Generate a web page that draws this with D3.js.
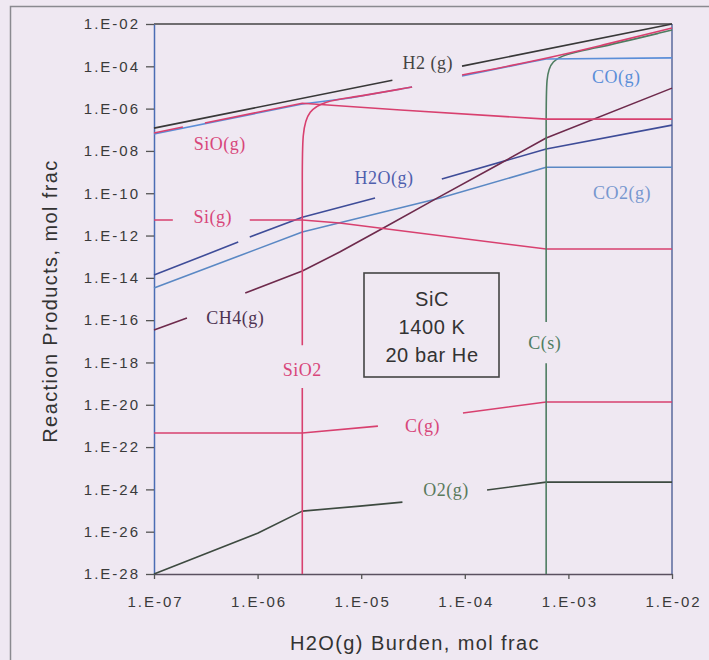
<!DOCTYPE html>
<html>
<head>
<meta charset="utf-8">
<script src="https://cdn.jsdelivr.net/npm/d3@7"></script>
<style>
  body { margin: 0; background: #efe8f2; }
  svg { display: block; }
</style>
</head>
<body>
<div id="chart"></div>
<script>
//dimensions
const WIDTH = 709;
const HEIGHT = 660;
const MARGIN = { top: 24, right: 37, bottom: 86, left: 154 };

// axis ticks
const X_TICKS = [1e-7, 1e-6, 1e-5, 1e-4, 1e-3, 1e-2];
const X_TICK_LABELS = ["1.E-07", "1.E-06", "1.E-05", "1.E-04", "1.E-03", "1.E-02"];
const Y_TICKS = [1e-2, 1e-4, 1e-6, 1e-8, 1e-10, 1e-12, 1e-14, 1e-16, 1e-18, 1e-20, 1e-22, 1e-24, 1e-26, 1e-28];
const Y_TICK_LABELS = ["1.E-02", "1.E-04", "1.E-06", "1.E-08", "1.E-10", "1.E-12", "1.E-14",
    "1.E-16", "1.E-18", "1.E-20", "1.E-22", "1.E-24", "1.E-26", "1.E-28"];

// series: [H2O burden, mol frac], null = break in the line
const H2 = [[1e-7, 1.2e-7], [2.0e-5, 2.2e-5], null, [9.4e-5, 1.02e-4], [1e-2, 1e-2]];
const SIO = [[1e-7, 7.1e-8], [1.9e-7, 1.35e-7], null, [3.1e-7, 2.1e-7], [2.7e-6, 1.8e-6],
    [2.4e-5, 8.6e-7], [6.1e-4, 3.2e-7], [1e-2, 3.2e-7]];
const CO = [[1e-7, 6.3e-8], [2.7e-6, 1.65e-6], [7.8e-6, 3.2e-6], [3.1e-5, 1.05e-5], null,
    [9.4e-5, 3.5e-5], [4.3e-4, 1.6e-4], [6.1e-4, 2.2e-4], [1e-2, 2.5e-4]];
// SiO2 and C(s) points are spline control points (rounded onset)
const SIO2 = [[2.7e-6, 1e-28], [2.7e-6, 6.2e-20], null, [2.7e-6, 6.6e-18], [2.7e-6, 3.7e-9],
    [2.7e-6, 1.65e-6], [7.8e-6, 3.2e-6], [3.1e-5, 1.05e-5], null,
    [9.4e-5, 3.9e-5], [4.3e-4, 1.6e-4], [2.0e-3, 9.1e-4], [1e-2, 6.5e-3]];
const SI = [[1e-7, 5.4e-12], [1.52e-7, 5.4e-12], null, [8.4e-7, 5.4e-12], [2.7e-6, 5.4e-12],
    [6.2e-6, 3.9e-12], [6.1e-4, 2.3e-13], [1e-2, 2.3e-13]];
const H2O = [[1e-7, 1.35e-14], [6.5e-7, 4.9e-13], null, [8.4e-7, 8.5e-13], [2.7e-6, 7.4e-12],
    [1.36e-5, 5.9e-11], null, [6.0e-5, 4.7e-10], [6.1e-4, 1.23e-8], [1e-2, 1.66e-7]];
const CO2 = [[1e-7, 3.3e-15], [2.7e-6, 1.47e-12], [5.8e-5, 5.9e-11], [6.1e-4, 1.7e-9], [1e-2, 1.7e-9]];
const CH4 = [[1e-7, 3.4e-17], [2.08e-7, 1.26e-16], null, [7.6e-7, 1.9e-15], [2.7e-6, 2.1e-14],
    [6.2e-6, 1.66e-13], [1.62e-5, 2.2e-12], [5.4e-5, 5.9e-11], [2.05e-4, 2.1e-9],
    [6.1e-4, 4.1e-8], [1e-2, 9.3e-6]];
const CS = [[6.1e-4, 1e-28], [6.1e-4, 9.3e-19], null, [6.1e-4, 8.1e-17], [6.1e-4, 4.4e-6],
    [6.1e-4, 2.8e-4], [1.6e-3, 5.9e-4], [1e-2, 5.2e-3]];
const CG = [[1e-7, 4.6e-22], [2.7e-6, 4.6e-22], [1.45e-5, 9.8e-22], null, [9.6e-5, 4.1e-21],
    [6.1e-4, 1.35e-20], [1e-2, 1.35e-20]];
const O2 = [[1e-7, 1e-28], [1e-6, 8.5e-27], [2.7e-6, 9.4e-26], [9.7e-6, 1.62e-25], [2.5e-5, 2.5e-25],
    null, [1.64e-4, 9.3e-25], [6.1e-4, 2.2e-24], [1e-2, 2.2e-24]];

// curve labels: text, burden, mol frac
const LABELS = [
    ["H2 (g)", 4.4e-5, 1.45e-4],
    ["SiO(g)", 4.3e-7, 2.3e-8],
    ["Si(g)", 3.7e-7, 7.4e-12],
    ["CH4(g)", 6.1e-7, 1.26e-16],
    ["H2O(g)", 1.66e-5, 5.2e-10],
    ["CO(g)", 2.9e-3, 3.1e-5],
    ["CO2(g)", 3.3e-3, 1.02e-10],
    ["SiO2", 2.7e-6, 4.4e-19],
    ["C(s)", 5.9e-4, 8.3e-18],
    ["C(g)", 3.9e-5, 9.8e-22],
    ["O2(g)", 6.6e-5, 9.3e-25]
];

const BOX_TEXT = ["SiC", "1400 K", "20 bar He"];

const PINK = "#d8406f";
// drawing order, colour, smooth or not
const SERIES = [
    { data: O2, color: "#3d4a40" },
    { data: CG, color: PINK },
    { data: CO2, color: "#5a88c4" },
    { data: H2O, color: "#3e4c98" },
    { data: CH4, color: "#6e2a4c" },
    { data: SI, color: PINK },
    { data: CS, color: "#4f7d62", smooth: true },
    { data: CO, color: "#5b8ed8" },
    { data: SIO, color: PINK },
    { data: SIO2, color: PINK, smooth: true },
    { data: H2, color: "#383838" }
];

const LABEL_COLORS = {
    "H2 (g)": "#444", "SiO(g)": "#d8467a", "Si(g)": "#d8467a", "CH4(g)": "#4e3352",
    "H2O(g)": "#4f5fae", "CO(g)": "#5b8ed8", "CO2(g)": "#7797cf", "SiO2": "#d8467a",
    "C(s)": "#4f7d62", "C(g)": "#d8467a", "O2(g)": "#5a7a5c"
};

function renderChart() {
    const svg = d3.select("#chart")
        .append("svg")
        .attr("width", WIDTH)
        .attr("height", HEIGHT);

    // outer page frame
    svg.append("rect")
        .attr("x", 10.5).attr("y", 6.5)
        .attr("width", 740).attr("height", 720)
        .attr("fill", "none")
        .attr("stroke", "#8a8a90")
        .attr("stroke-width", 1.5);

    const x = d3.scaleLog()
        .domain([1e-7, 1e-2])
        .range([MARGIN.left, WIDTH - MARGIN.right]);

    const y = d3.scaleLog()
        .domain([1e-28, 1e-2])
        .range([HEIGHT - MARGIN.bottom, MARGIN.top]);

    const x0 = x.range()[0], x1 = x.range()[1];
    const y0 = y.range()[0], y1 = y.range()[1];

    // top and right frame of the plot
    svg.append("line").attr("x1", x0).attr("x2", x1).attr("y1", y1).attr("y2", y1)
        .attr("stroke", "#444").attr("stroke-width", 1.5);
    svg.append("line").attr("x1", x1).attr("x2", x1).attr("y1", y1).attr("y2", y0)
        .attr("stroke", "#5a6a9c").attr("stroke-width", 1.5);

    // X axis
    const xAxis = svg.append("g")
        .attr("transform", `translate(0,${y0})`)
        .call(d3.axisBottom(x)
            .tickValues(X_TICKS)
            .tickFormat((d, i) => X_TICK_LABELS[i])
            .tickSize(5)
            .tickSizeOuter(0)
            .tickPadding(17));

    // Y axis
    const yAxis = svg.append("g")
        .attr("transform", `translate(${x0},0)`)
        .call(d3.axisLeft(y)
            .tickValues(Y_TICKS)
            .tickFormat((d, i) => Y_TICK_LABELS[i])
            .tickSize(8)
            .tickSizeOuter(0)
            .tickPadding(6));

    xAxis.select(".domain").attr("stroke", "#5a5060").attr("stroke-width", 1.5);
    yAxis.select(".domain").attr("stroke", "#4a6cb4").attr("stroke-width", 1.5);
    svg.selectAll(".tick line").attr("stroke", "#555").attr("stroke-width", 1.3);
    svg.selectAll(".tick text")
        .attr("fill", "#3a3a3a")
        .attr("font-family", "'Liberation Sans', Arial, sans-serif")
        .attr("font-size", 15)
        .attr("letter-spacing", 2);
    xAxis.selectAll(".tick text").attr("dx", 1);

    // axis titles
    svg.append("text")
        .attr("x", 415).attr("y", 650)
        .attr("text-anchor", "middle")
        .attr("font-family", "'Liberation Sans', Arial, sans-serif")
        .attr("font-size", 20)
        .attr("letter-spacing", 1.4)
        .attr("fill", "#333")
        .text("H2O(g) Burden, mol frac");

    svg.append("text")
        .attr("transform", "translate(57,301) rotate(-90)")
        .attr("text-anchor", "middle")
        .attr("font-family", "'Liberation Sans', Arial, sans-serif")
        .attr("font-size", 20)
        .attr("letter-spacing", 1.4)
        .attr("fill", "#333")
        .text("Reaction Products, mol frac");

    // curves
    SERIES.forEach(s => {
        const line = d3.line()
            .defined(d => d !== null)
            .x(d => x(d[0]))
            .y(d => y(d[1]))
            .curve(s.smooth ? d3.curveBasis : d3.curveLinear);

        svg.append("path")
            .datum(s.data)
            .attr("fill", "none")
            .attr("stroke", s.color)
            .attr("stroke-width", 1.6)
            .attr("stroke-linejoin", "round")
            .attr("d", line);
    });

    // curve labels
    svg.selectAll(".curve-label")
        .data(LABELS)
        .enter()
        .append("text")
        .attr("class", "curve-label")
        .attr("x", d => x(d[1]))
        .attr("y", d => y(d[2]))
        .attr("dy", "0.35em")
        .attr("text-anchor", "middle")
        .attr("font-family", "'Liberation Serif', 'Times New Roman', serif")
        .attr("font-size", 18)
        .attr("letter-spacing", 0.5)
        .attr("fill", d => LABEL_COLORS[d[0]])
        .text(d => d[0]);

    // condition box
    svg.append("rect")
        .attr("x", 364).attr("y", 273)
        .attr("width", 135).attr("height", 104)
        .attr("fill", "none")
        .attr("stroke", "#444")
        .attr("stroke-width", 1.6);

    svg.selectAll(".box-text")
        .data(BOX_TEXT)
        .enter()
        .append("text")
        .attr("class", "box-text")
        .attr("x", 432)
        .attr("y", (d, i) => 306 + i * 28)
        .attr("text-anchor", "middle")
        .attr("font-family", "'Liberation Sans', Arial, sans-serif")
        .attr("font-size", 20)
        .attr("letter-spacing", 0.6)
        .attr("fill", "#333")
        .text(d => d);
}

renderChart();
</script>
</body>
</html>
